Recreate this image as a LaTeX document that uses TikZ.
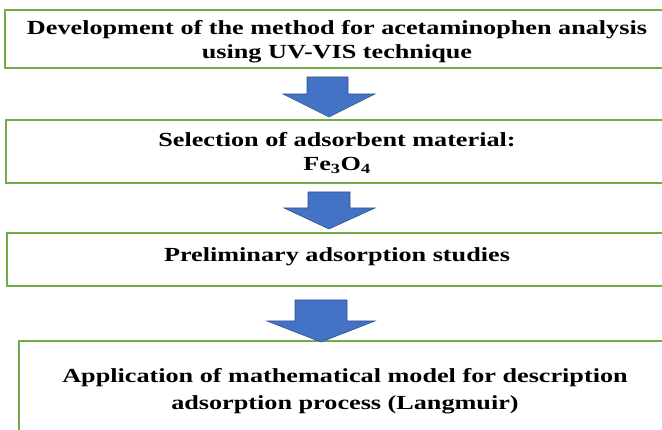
\documentclass[tikz,border=0pt]{standalone}
\usepackage{fontspec}
\newfontfamily\tnr{Liberation Serif}[FakeStretch=1.31]
\definecolor{boxgreen}{HTML}{70AD47}
\definecolor{arrowblue}{HTML}{4472C4}
\definecolor{arrowedge}{HTML}{2F528F}
\begin{document}
\begin{tikzpicture}[x=1pt,y=-1pt,
  flowbox/.style={draw=boxgreen,line width=1.6pt,fill=white,rectangle,inner sep=0pt},
  flowtext/.style={inner sep=0pt,align=center,font=\tnr\bfseries\fontsize{20}{24}\selectfont},
  blockarrow/.style={fill=arrowblue,draw=arrowedge,line width=0.6pt,line join=miter}]
\useasboundingbox (0,0) rectangle (662,430);
\clip (0,0) rectangle (662,430);
\node[flowbox,minimum width=664pt,minimum height=58pt] (b1) at (337,39) {};
\node[flowtext] (t1) at ([yshift=-3pt]b1.center)
  {Development of the method for acetaminophen analysis\\using UV-VIS technique};
\node[flowbox,minimum width=662pt,minimum height=63pt] (b2) at (337,151.5) {};
\node[flowtext] (t2) at ([yshift=-1.5pt]b2.center)
  {Selection of adsorbent material:\\Fe\textsubscript{3}O\textsubscript{4}};
\node[flowbox,minimum width=660pt,minimum height=53pt] (b3) at (337,259.5) {};
\node[flowtext] (t3) at ([yshift=3pt]b3.center) {Preliminary adsorption studies};
\node[flowbox,minimum width=652pt,minimum height=100pt] (b4) at (345,391) {};
\node[flowtext,font=\tnr\bfseries\fontsize{20}{27}\selectfont] (t4) at ([yshift=0pt]b4.center)
  {Application of mathematical model for description\\adsorption process (Langmuir)};
% block arrows between boxes
\draw[blockarrow] (307,77) -- (348,77) -- (348,94) -- (375,94) -- (329,117)
  -- (283,94) -- (307,94) -- cycle;
\draw[blockarrow] (308,192) -- (350,192) -- (350,208) -- (375,208) -- (329,229)
  -- (284,208) -- (308,208) -- cycle;
\draw[blockarrow] (295,300) -- (347,300) -- (347,321) -- (375,321) -- (321,342)
  -- (267,321) -- (295,321) -- cycle;
\end{tikzpicture}
\end{document}
